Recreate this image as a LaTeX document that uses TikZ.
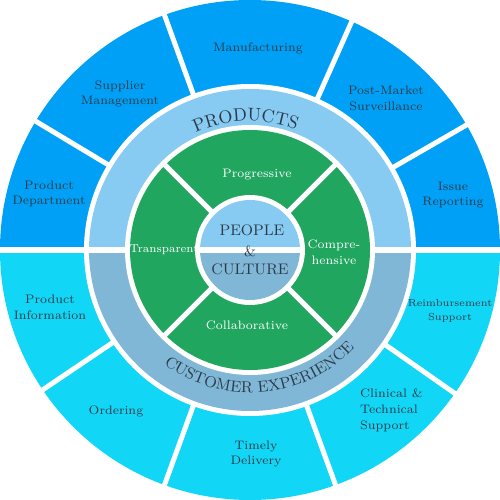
\documentclass[tikz,border=0pt]{standalone}
\usepackage{xcolor}
\usepackage{tikz}
\usetikzlibrary{decorations.text}
\definecolor{outertop}{RGB}{0,160,246}
\definecolor{outerbot}{RGB}{17,214,245}
\definecolor{ringtop}{RGB}{136,203,242}
\definecolor{ringbot}{RGB}{128,183,215}
\definecolor{corering}{RGB}{33,166,96}
\definecolor{labelgray}{RGB}{44,58,72}

\begin{document}
\begin{tikzpicture}[x=0.2mm, y=0.2mm,
    gapline/.style={white, line width=1mm},
    outerlabel/.style={text=labelgray, align=center, font=\fontsize{7}{9}\selectfont},
    greenlabel/.style={text=white, align=center, font=\fontsize{7}{9}\selectfont},
    corelabel/.style={text=labelgray, font=\fontsize{8.7}{11}\selectfont}]
    \useasboundingbox (-250,-250) rectangle (250,250);

    % Outer ring
    \fill[outertop] (0:250) arc[start angle=0, end angle=180, radius=250] -- cycle;
    \fill[outerbot] (180:250) arc[start angle=180, end angle=360, radius=250] -- cycle;
    \foreach \a in {30,66,110,149,214,250,290,325}
        \draw[gapline] (\a:150) -- (\a:255);
    \fill[white] (0,0) circle[radius=166];

    % Products / customer ring
    \fill[ringtop] (0:161) arc[start angle=0, end angle=180, radius=161] -- cycle;
    \fill[ringbot] (180:161) arc[start angle=180, end angle=360, radius=161] -- cycle;
    \draw[gapline] (-255,0) -- (255,0);
    \fill[white] (0,0) circle[radius=125];

    % Values ring
    \fill[corering] (0,0) circle[radius=120];
    \foreach \a in {45,135,225,315}
        \draw[gapline] (\a:50) -- (\a:121);
    \fill[white] (0,0) circle[radius=55];

    % Core
    \fill[ringtop] (0:50) arc[start angle=0, end angle=180, radius=50] -- cycle;
    \fill[ringbot] (180:50) arc[start angle=180, end angle=360, radius=50] -- cycle;
    \draw[gapline] (-52,0) -- (52,0);

    % Ring titles
    \path[decorate, decoration={text along path, text align=center,
        text={|\fontsize{10.3}{12}\selectfont\color{labelgray}|PRODUCTS}}]
        (152:129) arc[start angle=152, end angle=32, radius=129];
    \path[decorate, decoration={text along path, text align=center,
        text={|\fontsize{9}{12}\selectfont\color{labelgray}|CUSTOMER EXPERIENCE}}]
        (205:143) arc[start angle=205, end angle=345, radius=143];

    % Outer labels
    \node[outerlabel] (manufacturing) at (8,202) {Manufacturing};
    \node[outerlabel] (supplier) at (-130,156) {Supplier\\Management};
    \node[outerlabel] (productdept) at (-201,56) {Product\\Department};
    \node[outerlabel] (postmarket) at (136,152) {Post-Market\\Surveillance};
    \node[outerlabel] (issue) at (203,55) {Issue\\Reporting};
    \node[outerlabel] (productinfo) at (-200,-57) {Product\\Information};
    \node[outerlabel] (ordering) at (-134,-161) {Ordering};
    \node[outerlabel] (delivery) at (6,-204) {Timely\\Delivery};
    \node[outerlabel, align=left, anchor=west] (clinical) at (104,-160) {Clinical \&\\Technical\\Support};
    \node[outerlabel, font=\fontsize{5.8}{7.5}\selectfont] (reimburse) at (200,-61) {Reimbursement\\Support};

    % Values labels
    \node[greenlabel] (progressive) at (7,75) {Progressive};
    \node[greenlabel] (comprehensive) at (84,-2) {Compre-\\hensive};
    \node[greenlabel, font=\fontsize{6.5}{9}\selectfont] (transparent) at (-86,0) {Transparent};
    \node[greenlabel] (collaborative) at (-3,-75) {Collaborative};

    % Core labels
    \node[corelabel] (people) at (2,20) {PEOPLE};
    \node[corelabel, font=\fontsize{8.5}{10}\selectfont] (amp) at (0,-1) {\&};
    \node[corelabel] (culture) at (0,-19) {CULTURE};
\end{tikzpicture}
\end{document}
